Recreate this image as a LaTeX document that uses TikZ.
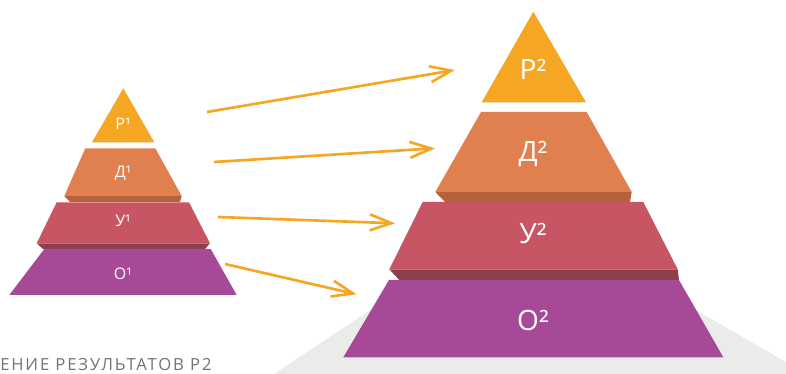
\documentclass[tikz,border=0pt]{standalone}
\usepackage{fontspec}
\setmainfont{Open Sans}
\newfontfamily\capfont[LetterSpace=11]{Open Sans}
\usetikzlibrary{arrows.meta}
\definecolor{topcol}{HTML}{F5A623}
\definecolor{dcol}{HTML}{E0804F}
\definecolor{dshade}{HTML}{B5623D}
\definecolor{ucol}{HTML}{C85563}
\definecolor{ushade}{HTML}{8E3F4C}
\definecolor{ocol}{HTML}{A64A97}
\definecolor{floor}{HTML}{EBEBE9}

\begin{document}
\begin{tikzpicture}[x=0.75pt,y=-0.75pt,
    small/.style={text=white,anchor=base,font=\fontsize{12}{12}\selectfont},
    big/.style={text=white,anchor=base,font=\fontsize{21}{21}\selectfont},
    link/.style={draw=topcol,line width=2pt,
      -{Straight Barb[length=16pt,width=12pt]}}]
  \useasboundingbox (0,0) rectangle (786,374);
  % floor shadow
  \fill[floor] (274,374) -- (372,309) -- (694,309) -- (786,362) -- (786,374) -- cycle;

  % small pyramid
  \fill[topcol] (123.3,88.3) -- (154.3,142.3) -- (92,142.3) -- cycle;
  \fill[dshade] (64.3,196) -- (181.7,196) -- (180,202) -- (70,202) -- cycle;
  \fill[dcol] (85.3,148.3) -- (155.3,148.3) -- (181.7,196) -- (64.3,196) -- cycle;
  \fill[ushade] (36.7,243.3) -- (210,243.3) -- (205,249) -- (43,249) -- cycle;
  \fill[ucol] (56.7,202.3) -- (189,202.3) -- (210,243.3) -- (36.7,243.3) -- cycle;
  \fill[ocol] (44.3,249) -- (210.7,249) -- (236.7,295) -- (9.3,295) -- cycle;
  \node[small] (p1) at (123,130) {Р¹};
  \node[small] (d1) at (123,178) {Д¹};
  \node[small] (u1) at (123,227) {У¹};
  \node[small] (o1) at (123,280) {О¹};

  % big pyramid
  \fill[topcol] (533.3,11.7) -- (586,102.3) -- (481.7,102.3) -- cycle;
  \fill[dshade] (435.3,192) -- (631.7,192) -- (630,202) -- (445,202) -- cycle;
  \fill[dcol] (481,112) -- (586.7,112) -- (631.7,192) -- (435.3,192) -- cycle;
  \fill[ushade] (389.3,269.3) -- (677.7,269.3) -- (679,280) -- (399.3,280) -- cycle;
  \fill[ucol] (422.7,202) -- (643.3,202) -- (677.7,269.3) -- (389.3,269.3) -- cycle;
  \fill[ocol] (389,280) -- (679,280) -- (723.3,357.3) -- (343.3,357.3) -- cycle;
  \node[big] (p2) at (533,80) {Р²};
  \node[big] (d2) at (533,162) {Д²};
  \node[big] (u2) at (533,244) {У²};
  \node[big] (o2) at (533,330) {О²};

  % arrows
  \coordinate (s1) at (207,112);   \coordinate (e1) at (455,70);
  \coordinate (s2) at (214,162);   \coordinate (e2) at (435,148.3);
  \coordinate (s3) at (218,217);   \coordinate (e3) at (395,223.3);
  \coordinate (s4) at (225,264);   \coordinate (e4) at (356.7,294.3);
  \draw[link] (s1) -- (e1);
  \draw[link] (s2) -- (e2);
  \draw[link] (s3) -- (e3);
  \draw[link] (s4) -- (e4);

  \node[anchor=base west,inner sep=0pt,text=black!55,
    font=\capfont\fontsize{12.5}{12.5}\selectfont] (cap) at (0,370.5) {ЕНИЕ РЕЗУЛЬТАТОВ Р2};
\end{tikzpicture}
\end{document}
